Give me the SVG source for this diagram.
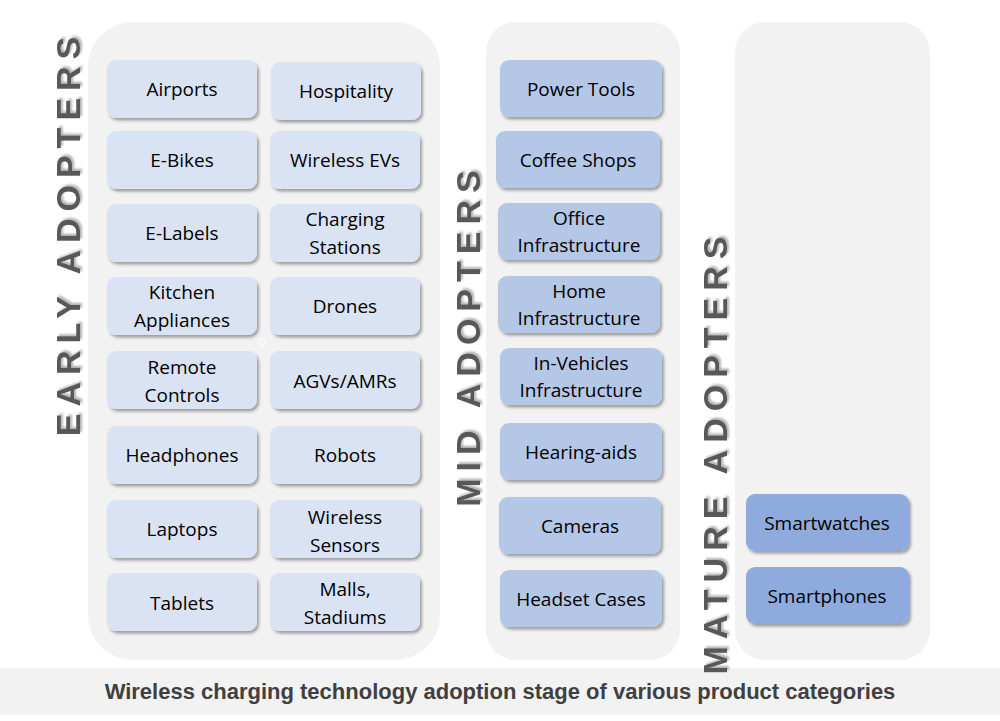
<svg xmlns="http://www.w3.org/2000/svg" width="1000" height="721" viewBox="0 0 1000 721">
<defs>
<filter id="sh" x="-10%" y="-10%" width="130%" height="140%"><feDropShadow dx="2" dy="2.5" stdDeviation="1.5" flood-color="#000" flood-opacity="0.35"/></filter>
<filter id="tsh" x="-10%" y="-10%" width="130%" height="130%"><feDropShadow dx="2" dy="2" stdDeviation="1.2" flood-color="#000" flood-opacity="0.3"/></filter>
<style>
.panel{fill:#f2f2f2}
.e rect{fill:#dae3f3;filter:url(#sh)}
.m rect{fill:#b4c7e7;filter:url(#sh)}
.t rect{fill:#8faadc;filter:url(#sh)}
text{font-family:"Open Sans","Liberation Sans",sans-serif;font-size:19px;fill:#000;text-anchor:middle}
.lab{font-family:"Liberation Sans",Arial,sans-serif;font-weight:bold;font-size:34px;fill:#595959;letter-spacing:7px;filter:url(#tsh)}
.title{font-family:"Liberation Sans",Arial,sans-serif;font-weight:bold;font-size:22px;fill:#404040}
</style>
</defs>
<rect width="1000" height="721" fill="#fff"/>
<rect class="panel" x="88" y="22" width="352" height="638" rx="45"/>
<rect class="panel" x="486" y="22" width="194" height="638" rx="30"/>
<rect class="panel" x="735" y="22" width="195" height="638" rx="30"/>
<rect x="0" y="668" width="1000" height="47" fill="#f2f2f2"/>
<text class="title" x="500" y="699">Wireless charging technology adoption stage of various product categories</text>
<text class="lab" transform="translate(80,233) rotate(-90)">EARLY ADOPTERS</text>
<text class="lab" transform="translate(480,335) rotate(-90)">MID ADOPTERS</text>
<text class="lab" transform="translate(727,452) rotate(-90)">MATURE ADOPTERS</text>
<text x="262" y="347" style="font-size:13px;fill:#fff">0</text>
<g class="e">
<g id="airports"><rect x="107" y="60" width="150" height="58" rx="9"/><text x="182" y="96">Airports</text></g>
<g id="hospitality"><rect x="271" y="62" width="150" height="58" rx="9"/><text x="346" y="98">Hospitality</text></g>
<g id="ebikes"><rect x="107" y="131" width="150" height="58" rx="9"/><text x="182" y="167">E-Bikes</text></g>
<g id="wev"><rect x="270" y="131" width="150" height="58" rx="9"/><text x="345" y="167">Wireless EVs</text></g>
<g id="elabels"><rect x="107" y="204" width="150" height="58" rx="9"/><text x="182" y="240">E-Labels</text></g>
<g id="charging"><rect x="270" y="204" width="150" height="58" rx="9"/><text x="345" y="226">Charging</text><text x="345" y="254">Stations</text></g>
<g id="kitchen"><rect x="107" y="277" width="150" height="58" rx="9"/><text x="182" y="299">Kitchen</text><text x="182" y="327">Appliances</text></g>
<g id="drones"><rect x="270" y="277" width="150" height="58" rx="9"/><text x="345" y="313">Drones</text></g>
<g id="remote"><rect x="107" y="351" width="150" height="58" rx="9"/><text x="182" y="374">Remote</text><text x="182" y="402">Controls</text></g>
<g id="agv"><rect x="270" y="351" width="150" height="58" rx="9"/><text x="345" y="388">AGVs/AMRs</text></g>
<g id="headphones"><rect x="107" y="426" width="150" height="58" rx="9"/><text x="182" y="462">Headphones</text></g>
<g id="robots"><rect x="270" y="426" width="150" height="58" rx="9"/><text x="345" y="462">Robots</text></g>
<g id="laptops"><rect x="107" y="500" width="150" height="58" rx="9"/><text x="182" y="536">Laptops</text></g>
<g id="sensors"><rect x="270" y="500" width="150" height="58" rx="9"/><text x="345" y="524">Wireless</text><text x="345" y="552">Sensors</text></g>
<g id="tablets"><rect x="107" y="573" width="150" height="58" rx="9"/><text x="182" y="610">Tablets</text></g>
<g id="malls"><rect x="270" y="573" width="150" height="58" rx="9"/><text x="345" y="596">Malls,</text><text x="345" y="624">Stadiums</text></g>
</g>
<g class="m">
<g id="power"><rect x="500" y="60" width="162" height="57" rx="9"/><text x="581" y="96">Power Tools</text></g>
<g id="coffee"><rect x="496" y="131" width="164" height="57" rx="9"/><text x="578" y="167">Coffee Shops</text></g>
<g id="office"><rect x="498" y="203" width="162" height="57" rx="9"/><text x="579" y="225">Office</text><text x="579" y="252">Infrastructure</text></g>
<g id="home"><rect x="498" y="276" width="162" height="57" rx="9"/><text x="579" y="298">Home</text><text x="579" y="325">Infrastructure</text></g>
<g id="vehicle"><rect x="500" y="348" width="162" height="57" rx="9"/><text x="581" y="370">In-Vehicles</text><text x="581" y="397">Infrastructure</text></g>
<g id="hearing"><rect x="500" y="423" width="162" height="57" rx="9"/><text x="581" y="459">Hearing-aids</text></g>
<g id="cameras"><rect x="499" y="497" width="162" height="57" rx="9"/><text x="580" y="533">Cameras</text></g>
<g id="headset"><rect x="500" y="570" width="162" height="57" rx="9"/><text x="581" y="606">Headset Cases</text></g>
</g>
<g class="t">
<g id="smartwatches"><rect x="746" y="494" width="163" height="57" rx="9"/><text x="827" y="530">Smartwatches</text></g>
<g id="smartphones"><rect x="746" y="567" width="163" height="57" rx="9"/><text x="827" y="603">Smartphones</text></g>
</g>
<g id="connectors"/>
</svg>
